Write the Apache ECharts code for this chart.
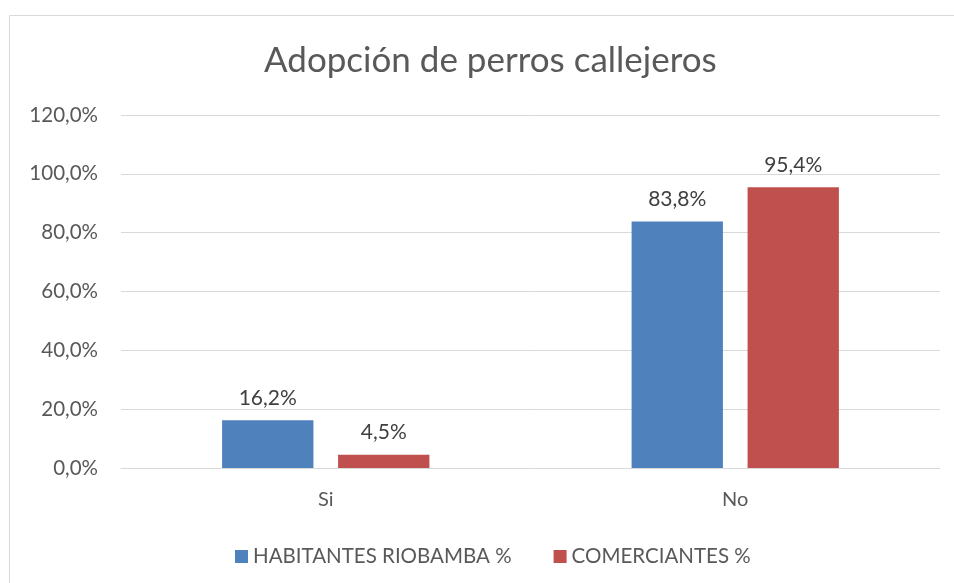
<!DOCTYPE html>
<html>
<head>
<meta charset="utf-8">
<script src="https://cdn.jsdelivr.net/npm/echarts@6/dist/echarts.min.js"></script>
<style>
html,body{margin:0;padding:0;background:#fff;}
#c{width:954px;height:583px;}
</style>
</head>
<body>
<div id="c"></div>
<script>
const categories = ['Si', 'No'];
const habitantes = [16.2, 83.8];
const comerciantes = [4.5, 95.4];
const seriesNames = ['HABITANTES RIOBAMBA %', 'COMERCIANTES %'];
const titleText = 'Adopción de perros callejeros';

const FONT = 'Lato, "Open Sans", sans-serif';
const fmt = v => v.toFixed(1).replace('.', ',') + '%';

const chart = echarts.init(document.getElementById('c'), null, {renderer: 'canvas'});
chart.setOption({
  backgroundColor: '#fff',
  animation: false,
  title: {
    text: titleText,
    left: 259,
    top: 38,
    textStyle: {fontFamily: FONT, fontSize: 35, fontWeight: 'normal', color: '#595959'}
  },
  graphic: [{
    type: 'rect',
    shape: {x: 9.5, y: 15.5, width: 1000, height: 600},
    style: {fill: 'none', stroke: '#d9d9d9', lineWidth: 1},
    silent: true
  }],
  legend: {
    top: 541,
    left: 230,
    itemWidth: 13,
    itemHeight: 13,
    itemGap: 42,
    icon: 'rect',
    textStyle: {fontFamily: FONT, fontSize: 20.5, color: '#595959'},
    data: seriesNames
  },
  grid: {left: 121, right: 14, top: 115, bottom: 115, containLabel: false},
  xAxis: {
    type: 'category',
    data: categories,
    axisLine: {lineStyle: {color: '#d9d9d9', width: 1}},
    axisTick: {show: false},
    axisLabel: {fontFamily: FONT, fontSize: 20, color: '#595959', margin: 22}
  },
  yAxis: {
    type: 'value',
    min: 0, max: 120, interval: 20,
    axisLine: {show: false},
    axisTick: {show: false},
    splitLine: {lineStyle: {color: '#d9d9d9', width: 1}},
    axisLabel: {fontFamily: FONT, fontSize: 20.5, color: '#595959', margin: 23, formatter: v => fmt(v)}
  },
  series: [
    {
      name: seriesNames[0], type: 'bar', data: habitantes,
      barWidth: '22.3%', barGap: '27%',
      itemStyle: {color: '#4F81BD'},
      label: {show: true, position: 'top', distance: 12, fontFamily: FONT, fontSize: 21, color: '#404040', formatter: p => fmt(p.value)}
    },
    {
      name: seriesNames[1], type: 'bar', data: comerciantes,
      barWidth: '22.3%', barGap: '27%',
      itemStyle: {color: '#C0504D'},
      label: {show: true, position: 'top', distance: 12, fontFamily: FONT, fontSize: 21, color: '#404040', formatter: p => fmt(p.value)}
    }
  ]
});
</script>
</body>
</html>
